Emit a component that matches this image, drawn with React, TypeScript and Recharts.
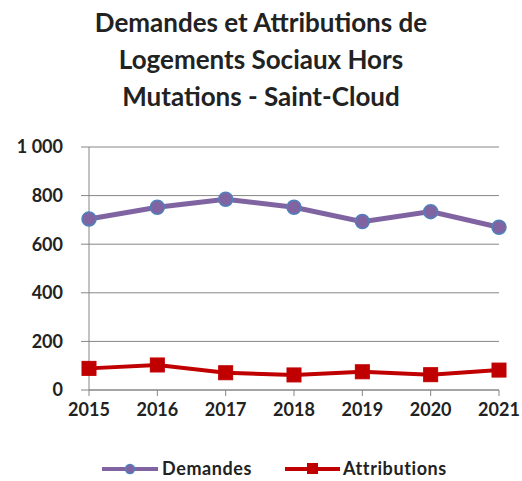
import React from 'react';
import { LineChart, Line, XAxis, YAxis, CartesianGrid, Legend } from 'recharts';

const years = ['2015', '2016', '2017', '2018', '2019', '2020', '2021'];
const demandes = [704, 752, 785, 752, 693, 734, 670];
const attributions = [89, 103, 71, 62, 75, 63, 82];
const yTicks = [0, 200, 400, 600, 800, 1000];
const titleLines = ['Demandes et Attributions de', 'Logements Sociaux Hors', 'Mutations - Saint-Cloud'];

const data = years.map((y, i) => ({ year: y, Demandes: demandes[i], Attributions: attributions[i] }));

const FONT = 'Lato, "Open Sans", sans-serif';
const PURPLE = '#8064A2';
const BLUE = '#4F81BD';
const RED = '#C00000';

const fmt = (v: number) => (v >= 1000 ? `${Math.floor(v / 1000)} ${String(v % 1000).padStart(3, '0')}` : String(v));

const SquareDot = (props: any) => {
  const { cx, cy } = props;
  if (cx == null || cy == null) return null;
  return <rect x={cx - 7} y={cy - 7} width={14} height={14} fill={RED} stroke={RED} />;
};

const LegendContent = () => (
  <svg width={522} height={24} style={{ display: 'block' }}>
    <line x1={102} x2={158} y1={13} y2={13} stroke={PURPLE} strokeWidth={4} />
    <circle cx={130} cy={13} r={4.5} fill={PURPLE} stroke={BLUE} strokeWidth={1.5} />
    <text x={162} y={19} fontFamily={FONT} fontSize={18} fontWeight={700} letterSpacing={0.6} fill="#222">Demandes</text>
    <line x1={285} x2={340} y1={13} y2={13} stroke={RED} strokeWidth={4} />
    <rect x={307} y={7} width={11} height={11} fill={RED} />
    <text x={343} y={19} fontFamily={FONT} fontSize={18} fontWeight={700} letterSpacing={0.6} fill="#222">Attributions</text>
  </svg>
);

export default function App() {
  return (
    <div style={{ position: 'absolute', left: 0, top: 0, width: 522, height: 481, background: '#fff' }}>
      <div style={{ position: 'absolute', left: 0, top: 4, width: 522, textAlign: 'center', fontFamily: FONT, fontWeight: 700, fontSize: 26, lineHeight: '37px', color: '#222' }}>
        {titleLines.map((t) => (
          <div key={t}>{t}</div>
        ))}
      </div>
      <LineChart width={522} height={481} data={data} margin={{ top: 147, right: 23, bottom: 0, left: 0 }}>
        <CartesianGrid vertical={false} stroke="#868686" strokeWidth={1} />
        <XAxis
          dataKey="year"
          height={67}
          axisLine={{ stroke: '#868686' }}
          tickLine={{ stroke: '#868686' }}
          tickSize={6}
          tickMargin={7}
          tick={{ fontFamily: FONT, fontSize: 18, fontWeight: 700, fill: '#222' }}
          interval={0}
        />
        <YAxis
          width={89}
          domain={[0, 1000]}
          ticks={yTicks}
          tickFormatter={fmt}
          axisLine={{ stroke: '#868686' }}
          tickLine={{ stroke: '#868686' }}
          tickSize={8}
          tickMargin={18}
          tick={{ fontFamily: FONT, fontSize: 18, fontWeight: 700, fill: '#222' }}
        />
        <Legend verticalAlign="bottom" wrapperStyle={{ top: 456, left: 0, bottom: 'auto' }} content={<LegendContent />} />
        <Line
          dataKey="Demandes"
          stroke={PURPLE}
          strokeWidth={5}
          dot={{ r: 7, fill: PURPLE, stroke: BLUE, strokeWidth: 1.5 }}
          isAnimationActive={false}
        />
        <Line dataKey="Attributions" stroke={RED} strokeWidth={4} dot={<SquareDot />} isAnimationActive={false} />
      </LineChart>
    </div>
  );
}
